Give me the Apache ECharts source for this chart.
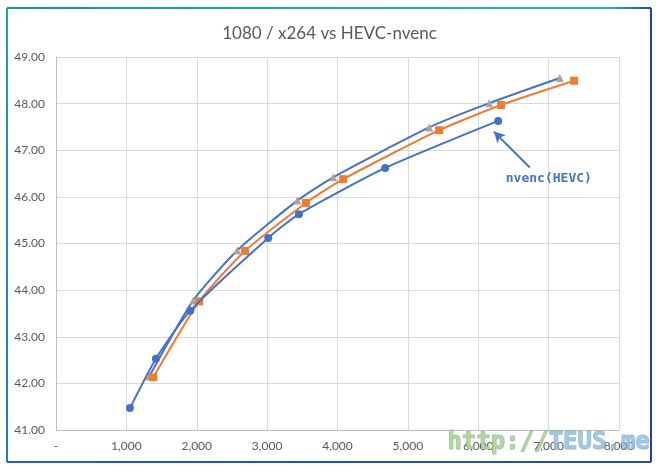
<!DOCTYPE html>
<html><head><meta charset="utf-8">
<script src="https://cdn.jsdelivr.net/npm/echarts@6/dist/echarts.min.js"></script>
<style>html,body{margin:0;padding:0;background:#fff}#c{width:659px;height:470px}</style>
</head><body><div id="c"></div>
<script>
const titleText = '1080 / x264 vs HEVC-nvenc';
const xTicks = [0,1000,2000,3000,4000,5000,6000,7000,8000];
const yTicks = [41,42,43,44,45,46,47,48,49];
const xNvenc = [1051,1420,1908,3016,3452,4678,6283];
const yNvenc = [41.47,42.53,43.56,45.12,45.63,46.62,47.63];
const xOrange = [1383,2036,2685,3551,4081,5445,6325,7362];
const yOrange = [42.13,43.76,44.84,45.87,46.38,47.43,47.97,48.49];
const xGray = [1326,1950,2575,3428,3939,5303,6155,7159];
const yGray = [42.15,43.78,44.85,45.92,46.42,47.49,48.01,48.55];
const annoText = 'nvenc(HEVC)';
const annoArrow = [[6733,46.63],[6222,47.40]];
const annoLabelAt = [7003,46.40];
const watermark = ['http://','TEUS.me'];

const zip = (xs, ys) => xs.map((x,i)=>[x, ys[i]]);
const chart = echarts.init(document.getElementById('c'), null, {renderer:'canvas'});
const fontFam = 'Lato, "Open Sans", sans-serif';
chart.setOption({
  animation:false,
  backgroundColor:'#fff',
  title:{text:titleText,left:'center',top:20,textStyle:{fontFamily:fontFam,fontSize:17,fontWeight:'normal',color:'#595959'}},
  grid:{left:56,right:40,top:57,bottom:40},
  xAxis:{type:'value',min:xTicks[0],max:xTicks[xTicks.length-1],interval:1000,
    axisLine:{show:true,lineStyle:{color:'#bfbfbf'}},axisTick:{show:false},
    splitLine:{show:true,lineStyle:{color:'#d9d9d9'}},
    axisLabel:{color:'#595959',fontFamily:fontFam,fontSize:12,margin:10,
      formatter:v=>v===0?'-':v.toLocaleString('en-US')}},
  yAxis:{type:'value',min:yTicks[0],max:yTicks[yTicks.length-1],interval:1,
    axisLine:{show:true,lineStyle:{color:'#bfbfbf'}},axisTick:{show:false},
    splitLine:{show:true,lineStyle:{color:'#d9d9d9'}},
    axisLabel:{color:'#595959',fontFamily:fontFam,fontSize:12,margin:11,formatter:v=>v.toFixed(2)}},
  series:[
    {type:'line',name:'gray',data:zip(xGray,yGray),smooth:0.2,symbol:'triangle',symbolSize:8,
      lineStyle:{color:'#4472C4',width:2},itemStyle:{color:'#A5A5A5'},z:2},
    {type:'line',name:'orange',data:zip(xOrange,yOrange),smooth:0.2,symbol:'rect',symbolSize:8,
      lineStyle:{color:'#ED7D31',width:2},itemStyle:{color:'#ED7D31'},z:3},
    {type:'line',name:'nvenc',data:zip(xNvenc,yNvenc),smooth:0.2,symbol:'circle',symbolSize:8,
      lineStyle:{color:'#4472C4',width:2},itemStyle:{color:'#4472C4'},z:4,
      markLine:{silent:true,symbol:['none','arrow'],symbolSize:[9,11],
        lineStyle:{color:'#4472C4',width:2,type:'solid'},label:{show:false},
        data:[[{coord:annoArrow[0]},{coord:annoArrow[1]}]]},
      markPoint:{silent:true,symbol:'circle',symbolSize:0,
        label:{show:true,position:'inside',formatter:annoText,color:'#4472C4',
          fontFamily:'"DejaVu Sans Mono", monospace',fontSize:13,fontWeight:'bold'},
        data:[{coord:annoLabelAt}]}}
  ],
  graphic:[
    {type:'line',shape:{x1:7,y1:8,x2:651,y2:8},style:{stroke:new echarts.graphic.LinearGradient(0,0,1,0,[{offset:0,color:'#1a8fa0'},{offset:0.5,color:'#19aab0'},{offset:0.93,color:'#22b0b8'},{offset:1,color:'#1d4c8c'}]),lineWidth:2},z:100},
    {type:'line',shape:{x1:7,y1:8,x2:7,y2:462},style:{stroke:new echarts.graphic.LinearGradient(0,0,0,1,[{offset:0,color:'#1f9fb8'},{offset:1,color:'#1a7cc8'}]),lineWidth:2},z:100},
    {type:'line',shape:{x1:651,y1:8,x2:651,y2:462},style:{stroke:'#2a3f9a',lineWidth:2},z:100},
    {type:'line',shape:{x1:7,y1:462,x2:651,y2:462},style:{stroke:new echarts.graphic.LinearGradient(0,0,1,0,[{offset:0,color:'#1565b8'},{offset:1,color:'#1e4fa8'}]),lineWidth:2},z:100},
    {type:'text',left:447,top:430,z:50,style:{
      text:'{a|'+watermark[0]+'}{b|'+watermark[1]+'}',
      rich:{
        a:{fontFamily:'"DejaVu Sans Mono", monospace',fontSize:24,fontWeight:'bold',fill:'rgba(165,212,140,0.85)',stroke:'rgba(140,150,160,0.7)',lineWidth:1},
        b:{fontFamily:'"DejaVu Sans Mono", monospace',fontSize:24,fontWeight:'bold',fill:'rgba(140,195,230,0.85)',stroke:'rgba(140,150,160,0.7)',lineWidth:1}
      }}}
  ]
});
</script></body></html>
